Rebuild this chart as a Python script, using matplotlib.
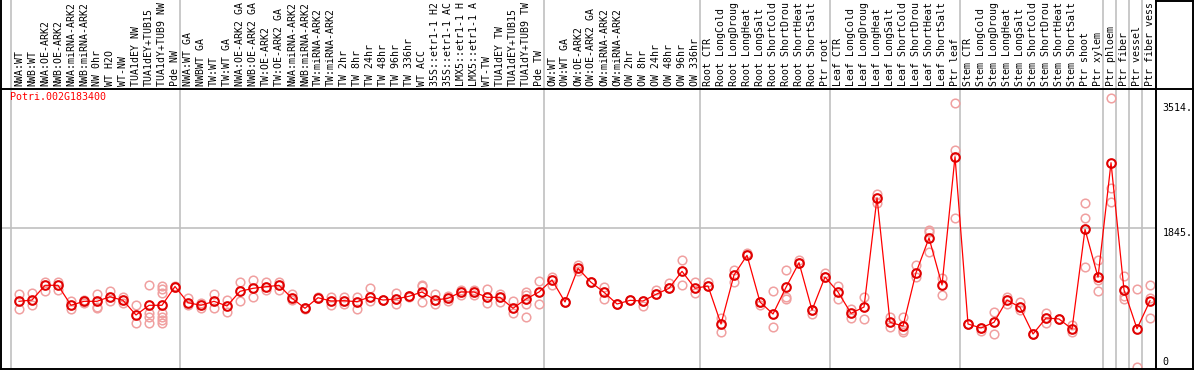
import matplotlib
matplotlib.use("Agg")
import matplotlib.pyplot as plt
import matplotlib.transforms as mtrans
from matplotlib.lines import Line2D

gene = "Potri.002G183400"

labels = [
    "NWA:WT", "NWB:WT", "NWA:OE-ARK2", "NWB:OE-ARK2", "NWA:miRNA-ARK2", "NWB:miRNA-ARK2",
    "NW 0hr", "WT H2O", "WT-NW", "TUA1dEY NW", "TUA1dEY+TUB15", "TUA1dY+TUB9 NW", "Pde NW",
    "NWA:WT GA", "NWBWT GA", "TW:WT", "TW:WT GA", "NWA:OE-ARK2 GA", "NWB:OE-ARK2 GA",
    "TW:OE-ARK2", "TW:OE-ARK2 GA", "NWA:miRNA-ARK2", "NWB:miRNA-ARK2", "TW:miRNA-ARK2",
    "TW:miRNA-ARK2", "TW 2hr", "TW 8hr", "TW 24hr", "TW 48hr", "TW 96hr", "TW 336hr", "WT ACC",
    "35S::etr1-1 H2", "35S::etr1-1 AC", "LMX5::etr1-1 H", "LMX5::etr1-1 A", "WT-TW",
    "TUA1dEY TW", "TUA1dEY+TUB15", "TUA1dY+TUB9 TW", "Pde TW",
    "OW:WT", "OW:WT GA", "OW:OE-ARK2", "OW:OE-ARK2 GA", "OW:miRNA-ARK2", "OW:miRNA-ARK2",
    "OW 2hr", "OW 8hr", "OW 24hr", "OW 48hr", "OW 96hr", "OW 336hr",
    "Root CTR", "Root LongCold", "Root LongDroug", "Root LongHeat", "Root LongSalt",
    "Root ShortCold", "Root ShortDrou", "Root ShortHeat", "Root ShortSalt", "Ptr root",
    "Leaf CTR", "Leaf LongCold", "Leaf LongDroug", "Leaf LongHeat", "Leaf LongSalt",
    "Leaf ShortCold", "Leaf ShortDrou", "Leaf ShortHeat", "Leaf ShortSalt", "Ptr leaf",
    "Stem CTR", "Stem LongCold", "Stem LongDroug", "Stem LongHeat", "Stem LongSalt",
    "Stem ShortCold", "Stem ShortDrou", "Stem ShortHeat", "Stem ShortSalt", "Ptr shoot",
    "Ptr xylem", "Ptr phloem", "Ptr fiber", "Ptr vessel", "Ptr fiber vess",
]

# first sample of each block
group_starts = [0, 13, 41, 53, 63, 73, 84, 85, 86, 87]

means = [
    869, 886, 1082, 1082, 816, 869, 869, 930, 882, 687, 816, 816, 1066,
    850, 816, 869, 807, 1002, 1042, 1063, 1082, 910, 776, 917, 873, 877, 864, 930, 886,
    900, 936, 993, 886, 909, 993, 993, 922, 922, 776, 900, 993,
    1153, 860, 1308, 1122, 989, 833, 882, 873, 962, 1042, 1268, 1042,
    1073, 567, 1219, 1481, 860, 700, 1055, 1383, 753, 1193,
    993, 709, 793, 2248, 590, 540, 1250, 1712, 1086, 2794,
    567, 514, 590, 886, 789, 434, 647, 634, 500, 1827, 1189,
    2714, 1020, 504, 877,
]

reps = [
    [962, 763], [976, 816], [1122, 1010], [1122, 1020], [873, 767], [886, 846],
    [962, 797, 784], [1010, 869], [930, 843], [820, 576], [1086, 709, 664, 576],
    [1073, 1029, 976, 709, 664, 620, 576], [1075, 1058],
    [909, 820], [850, 780], [962, 780], [886, 723], [1126, 877], [1153, 922],
    [1126, 1020], [1130, 1020], [962, 886], [785, 768], [920, 912], [922, 820],
    [930, 833], [922, 771], [1042, 877], [890, 882], [976, 829], [940, 932],
    [1073, 1086, 860], [962, 833], [940, 869], [1020, 953], [1020, 949], [1029, 850],
    [962, 864], [869, 709], [997, 953, 833, 656], [1144, 833],
    [1197, 1086], [860, 860], [1352, 1270], [1122, 1122], [1063, 904], [833, 833],
    [882, 882], [807, 873], [1020, 962], [1109, 1042], [1415, 1082], [1122, 976],
    [1122, 1073], [643, 465], [1286, 1130], [1508, 1481], [816, 860], [1002, 531],
    [1282, 930, 904], [1419, 1383], [700, 753], [1250, 1193],
    [1073, 896], [771, 651], [922, 630], [2297, 2174], [664, 531], [656, 487, 457],
    [1352, 1189], [1819, 1796, 1521], [1175, 953], [3505, 2883, 1974],
    [567, 567], [478, 514], [723, 430], [930, 829], [860, 753], [434, 434], [717, 576],
    [634, 634], [554, 457], [2174, 1974, 1322], [1419, 1153, 1006],
    [3571, 2373, 2195], [1206, 940, 896], [1029, 0], [1086, 909, 643],
]

yticks = [3514, 1845, 0]
ytick_labels = ["3514.", "1845.", "0"]

W, H = 1194, 370
fig = plt.figure(figsize=(W / 100, H / 100), dpi=100)
ax = fig.add_axes([2 / W, 2 / H, 1154 / W, 279 / H])
lab = fig.add_axes([2 / W, 282 / H, 1154 / W, 88 / H], sharex=ax)
for a in (ax, lab):
    a.set_axis_off()

ax.set_xlim(-1.308, 87.46)
ax.set_ylim(-18.6, 3695)
lab.set_ylim(0, 1)

grey = "#c0c0c0"
ax.axhline(1845, color=grey, lw=1.2, zorder=0)
for g in group_starts:
    ax.axvline(g - 0.6, color=grey, lw=1.2, zorder=0)
    lab.axvline(g - 0.6, color=grey, lw=1.2, zorder=0)

xs = list(range(len(labels)))
for i, r in enumerate(reps):
    ax.plot([i] * len(r), r, "o", mfc="none", mec="#f0a0a0", ms=6.2, mew=1.1,
            clip_on=False, zorder=2)
ax.plot(xs, means, "-", color="red", lw=0.9, zorder=3)
ax.plot(xs, means, "o", mfc="none", mec="#e00000", ms=6.2, mew=1.5, zorder=4)

mono = "DejaVu Sans Mono"
tl = mtrans.blended_transform_factory(lab.transData, lab.transAxes)
for i, s in enumerate(labels):
    lab.text(i, 0.025, s, rotation=90, ha="center", va="bottom", fontsize=7.1,
             family=mono, transform=tl)

ax.text(0.0066, 0.971, gene, color="red", fontsize=7.2, family=mono,
        ha="left", va="center", transform=ax.transAxes)

tr = mtrans.blended_transform_factory(ax.transAxes, ax.transData)
for v, s in zip(yticks, ytick_labels):
    ax.text(1.0055, v, s, fontsize=7.2, family=mono, ha="left",
            va="bottom" if v == 0 else "top", transform=tr, clip_on=False)


def fline(x0, y0, x1, y1):
    fig.add_artist(Line2D([x0 / W, x1 / W], [1 - y0 / H, 1 - y1 / H],
                          color="black", lw=1.4))


fline(1, 0, 1, 369)
fline(0, 368.5, W, 368.5)
fline(0, 88.5, W, 88.5)
fline(1156, 0, 1156, 369)
fline(1193, 0, 1193, 369)
fline(1156, 0.5, W, 0.5)

fig.savefig("out.png", dpi=100)
